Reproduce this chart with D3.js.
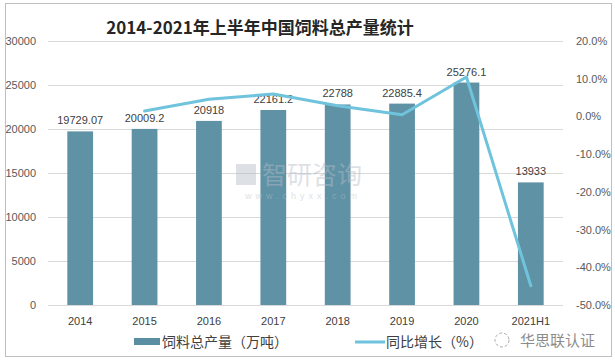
<!DOCTYPE html>
<html><head><meta charset="utf-8">
<script src="https://cdn.jsdelivr.net/npm/d3@7"></script>
<style>body{margin:0;background:#fff;}svg{display:block;font-family:"Microsoft YaHei","Noto Sans CJK SC",sans-serif;}</style>
</head><body><svg id="c" width="615" height="364"></svg>
<script>
const categories = ["2014","2015","2016","2017","2018","2019","2020","2021H1"];
const production = [19729.07,20009.2,20918,22161.2,22788,22885.4,25276.1,13933];
const productionLabels = ["19729.07","20009.2","20918","22161.2","22788","22885.4","25276.1","13933"];
const growth = [null,1.42,4.54,5.94,2.83,0.43,10.45,-44.9];
const leftTicks = [0,5000,10000,15000,20000,25000,30000];
const rightTicks = [20,10,0,-10,-20,-30,-40,-50];

const svg = d3.select("#c");
const L=48,R=563,T=41,B=305;
svg.append("rect").attr("x",5.5).attr("y",3.5).attr("width",606).attr("height",353).attr("fill","#fff").attr("stroke","#bfbfbf");

const x = d3.scaleBand().domain(categories).range([L,R]).paddingInner(0.6).paddingOuter(0.3);
const y = d3.scaleLinear().domain([0,30000]).range([B,T]);
const y2 = d3.scaleLinear().domain([-50,20]).range([B,T]);

// gridlines
svg.append("g").selectAll("line").data(leftTicks).join("line")
 .attr("x1",L).attr("x2",R).attr("y1",d=>y(d)+0.5).attr("y2",d=>y(d)+0.5)
 .attr("stroke","#d9d9d9").attr("stroke-width",1);

// left axis
const la = svg.append("g").attr("transform",`translate(${L-9},0)`)
 .call(d3.axisLeft(y).tickValues(leftTicks).tickSize(0).tickFormat(d3.format("d")));
la.select(".domain").remove();
la.selectAll("text").attr("fill","#595959").style("font-size","11px").style("font-family","Arial,'Liberation Sans',sans-serif");

// right axis
const ra = svg.append("g").attr("transform",`translate(${R+10},0)`)
 .call(d3.axisRight(y2).tickValues(rightTicks).tickSize(0).tickFormat(d=>d.toFixed(1)+"%"));
ra.select(".domain").remove();
ra.selectAll("text").attr("fill","#595959").style("font-size","11px").style("font-family","Arial,'Liberation Sans',sans-serif");

// bars
svg.append("g").selectAll("rect").data(categories).join("rect")
 .attr("x",d=>x(d)).attr("width",x.bandwidth())
 .attr("y",(d,i)=>y(production[i])).attr("height",(d,i)=>B-y(production[i]))
 .attr("fill","#5a8ea2").attr("opacity",0.97);

// watermark (overlay)
const wm = svg.append("g").attr("opacity",0.45);
wm.append("rect").attr("x",236).attr("y",164).attr("width",20).attr("height",21).attr("fill","#b5bec8");
wm.append("text").attr("x",312).attr("y",184).attr("text-anchor","middle").attr("fill","#b5bec8").style("font-size","25px").text("智研咨询");
wm.append("text").attr("x",303).attr("y",199).attr("text-anchor","middle").attr("fill","#b5bec8").style("font-size","9px").style("letter-spacing","4px").style("font-family","Arial,sans-serif").text("www.chyxx.com");

// bar labels
svg.append("g").selectAll("text").data(categories).join("text")
 .attr("x",d=>x(d)+x.bandwidth()/2).attr("y",(d,i)=>y(production[i])-7)
 .attr("text-anchor","middle").attr("fill","#404040").style("font-size","11px")
 .style("font-family","Arial,'Liberation Sans',sans-serif").text((d,i)=>productionLabels[i]);

// line
const pts = categories.map((c,i)=>({c,v:growth[i]})).filter(p=>p.v!==null);
svg.append("path").datum(pts).attr("fill","none").attr("stroke","#6fc3dc").attr("stroke-width",3)
 .attr("stroke-linejoin","round").attr("stroke-linecap","round")
 .attr("d",d3.line().x(p=>x(p.c)+x.bandwidth()/2).y(p=>y2(p.v)));

// x axis labels
svg.append("g").selectAll("text").data(categories).join("text")
 .attr("x",d=>x(d)+x.bandwidth()/2).attr("y",325).attr("text-anchor","middle")
 .attr("fill","#404040").style("font-size","11px").style("font-family","Arial,'Liberation Sans',sans-serif").text(d=>d);

// title
svg.append("text").attr("x",260).attr("y",34).attr("text-anchor","middle").attr("fill","#262626")
 .style("font-size","17px").style("font-weight","bold").text("2014-2021年上半年中国饲料总产量统计");

// legend
svg.append("rect").attr("x",134).attr("y",338).attr("width",26).attr("height",7).attr("fill","#5a8ea2");
svg.append("text").attr("x",162).attr("y",347).attr("fill","#404040").style("font-size","14px").text("饲料总产量（万吨）");
svg.append("line").attr("x1",355).attr("x2",385).attr("y1",342).attr("y2",342).attr("stroke","#6fc3dc").attr("stroke-width",3);
svg.append("text").attr("x",386).attr("y",347).attr("fill","#404040").style("font-size","14px").text("同比增长（%）");

// corner watermark
svg.append("circle").attr("cx",502).attr("cy",340).attr("r",7).attr("fill","none").attr("stroke","#aaa").attr("stroke-dasharray","3,2");
svg.append("text").attr("x",520).attr("y",346).attr("fill","#8c8c8c").style("font-size","15px").text("华思联认证");
</script></body></html>
